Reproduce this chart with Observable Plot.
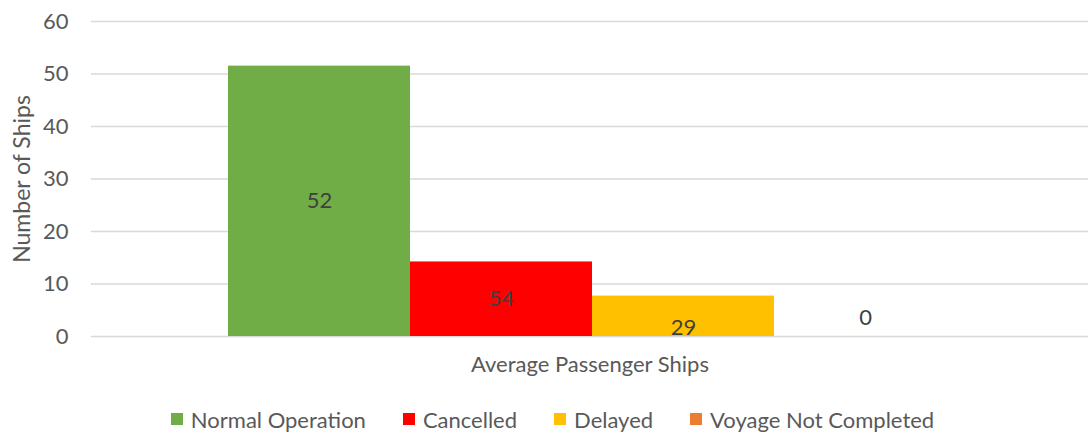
<!DOCTYPE html>
<html>
<head>
<meta charset="utf-8">
<script src="https://cdn.jsdelivr.net/npm/d3@7"></script>
<script src="https://cdn.jsdelivr.net/npm/@observablehq/plot@0.6"></script>
<style>
  html, body { margin: 0; padding: 0; background: #fff; }
  body { width: 1088px; height: 436px; overflow: hidden; font-family: Lato, "Open Sans", sans-serif; }
  #legend { display: flex; justify-content: center; align-items: center; height: 30px; margin-top: 14px; padding-left: 17px;
            font-size: 22px; color: #595959; }
  #legend .item { display: flex; align-items: center; margin: 0 18.5px; }
  #legend .sw { width: 12px; height: 12px; margin-right: 8px; }
</style>
</head>
<body>
<div id="chart"></div>
<div id="legend"></div>
<script>
const categories = ["Average Passenger Ships"];
const series = ["Normal Operation", "Cancelled", "Delayed", "Voyage Not Completed"];
const values = [51.5, 14.2, 7.7, 0];
const labels = ["52", "54", "29", "0"];
const colors = ["#70AD47", "#FF0000", "#FFC000", "#ED7D31"];
const yTicks = [0, 10, 20, 30, 40, 50, 60];
const yTitle = "Number of Ships";

const data = series.map((s, i) => ({category: categories[0], series: s, value: values[i], label: labels[i]}));

const font = 'Lato, "Open Sans", sans-serif';

const chart = Plot.plot({
  width: 1088,
  height: 390,
  marginTop: 21,
  marginBottom: 54,
  marginLeft: 91,
  marginRight: 0,
  style: {fontFamily: font, fontSize: "22px", color: "#595959", background: "#fff"},
  fx: {domain: categories, padding: 0, label: null},
  x: {domain: series, paddingInner: 0, paddingOuter: 0.739, align: 0.51, axis: null},
  y: {domain: [0, 60]},
  color: {domain: series, range: colors},
  marks: [
    Plot.gridY(yTicks, {stroke: "#d9d9d9", strokeOpacity: 1, strokeWidth: 1.3}),
    Plot.axisY(yTicks, {tickSize: 0, tickPadding: 23, label: null, fill: "#595959", fontSize: 22}),
    Plot.axisFx({anchor: "bottom", tickSize: 0, tickPadding: 20, label: null, fill: "#595959", fontSize: 22}),
    Plot.barY(data, {fx: "category", x: "series", y: "value", fill: "series"}),
    Plot.text(data.filter(d => d.value > 0), {
      fx: "category", x: "series", y: d => (d.value / 2 >= 5 ? d.value / 2 : 1.6),
      text: "label", fill: "#404040", fontSize: 22, lineAnchor: "middle"
    }),
    Plot.text(data.filter(d => d.value === 0), {
      fx: "category", x: "series", y: "value",
      text: "label", fill: "#404040", fontSize: 22, lineAnchor: "middle", dy: -19
    }),
    Plot.text([yTitle], {
      fx: () => categories[0], frameAnchor: "left", rotate: -90, dx: -69,
      textAnchor: "middle", lineAnchor: "middle",
      text: d => d, fill: "#595959", fontSize: 23
    })
  ]
});
document.getElementById("chart").appendChild(chart);

const legend = document.getElementById("legend");
series.forEach((s, i) => {
  const item = document.createElement("div");
  item.className = "item";
  const sw = document.createElement("span");
  sw.className = "sw";
  sw.style.background = colors[i];
  const t = document.createElement("span");
  t.textContent = s;
  item.appendChild(sw);
  item.appendChild(t);
  legend.appendChild(item);
});
</script>
</body>
</html>
